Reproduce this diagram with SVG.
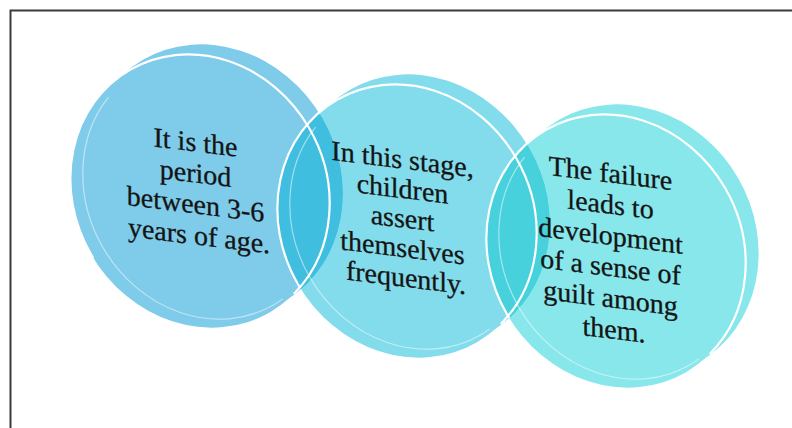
<svg xmlns="http://www.w3.org/2000/svg" xmlns:xlink="http://www.w3.org/1999/xlink" width="792" height="428" viewBox="0 0 792 428">
<defs>
<style>
.c1{fill:#7ECBEA}.c2{fill:#82DCEC}.c3{fill:#87E7EB}
.l12{fill:#40BEDF}.l23{fill:#47D1DD}
.rim{fill:none;stroke:#fff;stroke-width:2.2;stroke-dasharray:77 101 182 0}
.faint{fill:none;stroke:#fff;stroke-opacity:0.5;stroke-width:1.2;stroke-dasharray:0 85 167 108}
.lbl{font-family:"Liberation Serif","Times New Roman",serif;font-size:28px;fill:#141414;stroke:#141414;stroke-width:0.3;text-anchor:middle}
.frame{fill:none;stroke:#3b3b3b;stroke-width:2}
</style>
<ellipse id="F" cx="0" cy="0" rx="126" ry="140" transform="rotate(-30)"/>
<ellipse id="R" cx="0" cy="0" rx="126" ry="140" transform="rotate(-30)" pathLength="360"/>
<ellipse id="Q" cx="0" cy="0" rx="119" ry="135" transform="rotate(-30)" pathLength="360"/>
<clipPath id="k1"><use href="#F" x="200" y="191"/><use href="#F" x="213" y="181"/></clipPath>
<clipPath id="k2"><use href="#F" x="407" y="221"/><use href="#F" x="420" y="211"/></clipPath>
</defs>
<path class="frame" d="M10.5 428 V10.5 H792"/>
<g id="node-1">
<use class="c1" href="#F" x="213" y="181"/>
<use class="c1" href="#F" x="200" y="191"/>
<text class="lbl" transform="translate(199 0) skewY(7)">
<tspan x="0" y="152">It is the</tspan>
<tspan x="0" y="183">period</tspan>
<tspan x="0" y="214">between 3-6</tspan>
<tspan x="0" y="245">years of age.</tspan>
</text>
</g>
<g id="node-2">
<use class="c2" href="#F" x="420" y="211"/>
<use class="c2" href="#F" x="407" y="221"/>
<g clip-path="url(#k1)">
<use class="l12" href="#F" x="420" y="211"/>
<use class="l12" href="#F" x="407" y="221"/>
</g>
<text class="lbl" transform="translate(406 0) skewY(7)">
<tspan x="0" y="169">In this stage,</tspan>
<tspan x="0" y="198.5">children</tspan>
<tspan x="0" y="228">assert</tspan>
<tspan x="0" y="257.5">themselves</tspan>
<tspan x="0" y="287">frequently.</tspan>
</text>
</g>
<g id="node-3">
<use class="c3" href="#F" x="629" y="241"/>
<use class="c3" href="#F" x="616" y="251"/>
<g clip-path="url(#k2)">
<use class="l23" href="#F" x="629" y="241"/>
<use class="l23" href="#F" x="616" y="251"/>
</g>
<text class="lbl" transform="translate(614 0) skewY(7)">
<tspan x="0" y="183">The failure</tspan>
<tspan x="0" y="214.2">leads to</tspan>
<tspan x="0" y="245.4">development</tspan>
<tspan x="0" y="276.6">of a sense of</tspan>
<tspan x="0" y="307.8">guilt among</tspan>
<tspan x="0" y="339">them.</tspan>
</text>
</g>
<g id="rims">
<use class="faint" href="#Q" x="206" y="188"/>
<use class="faint" href="#Q" x="413" y="218"/>
<use class="faint" href="#Q" x="622" y="248"/>
<use class="rim" href="#R" x="200" y="191"/>
<use class="rim" href="#R" x="407" y="221"/>
<use class="rim" href="#R" x="616" y="251"/>
</g>
</svg>
